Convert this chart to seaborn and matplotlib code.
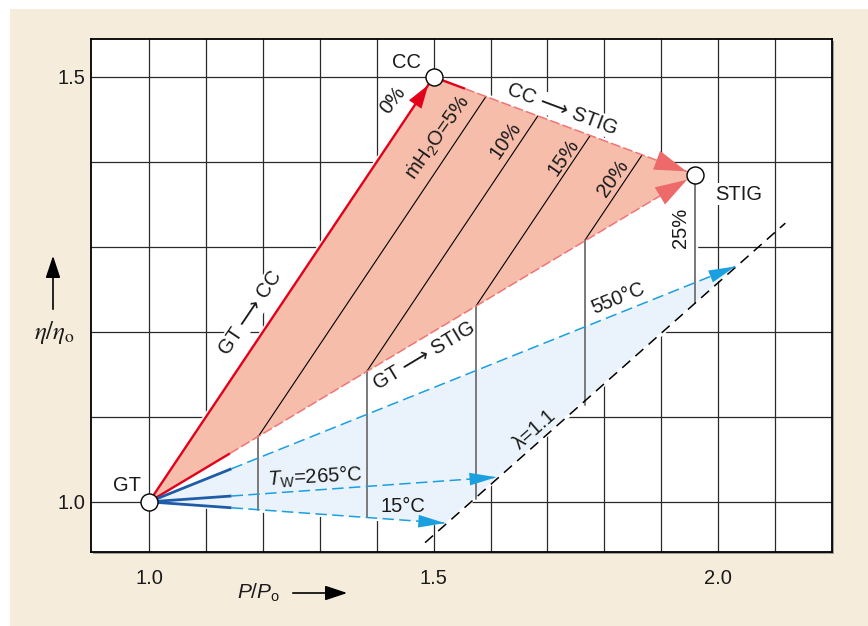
import numpy as np
import pandas as pd
import matplotlib
matplotlib.use('Agg')
import matplotlib.pyplot as plt
import seaborn as sns
from matplotlib.patches import Polygon, Rectangle

# State points (P/Po, eta/eta_o)
gt_point = (1.0, 1.0)
cc_point = (1.5, 1.5)
stig_point = (1.96, 1.385)

# Constant water injection lines (lower end on GT->STIG, upper end on CC->STIG)
water_labels = ['5%', '10%', '15%', '20%']
water_x_low = [1.192, 1.383, 1.575, 1.766]
water_y_low = [1.077, 1.154, 1.231, 1.308]
water_x_high = [1.592, 1.683, 1.775, 1.866]
water_y_high = [1.477, 1.454, 1.431, 1.408]

# Grey drop lines from the GT->STIG line down to the lower boundary
drop_x = [1.192, 1.383, 1.575, 1.766, 1.96]
drop_y_top = [1.077, 1.154, 1.231, 1.308, 1.385]
drop_y_bottom = [0.991, 0.982, 1.003, 1.114, 1.234]

# Water temperature lines from GT, ending on lambda = 1.1
tw_labels = ['550°C', '265°C', '15°C']
tw_x_end = [2.03, 1.61, 1.52]
tw_y_end = [1.277, 1.029, 0.975]

# lambda = 1.1 line
lambda_x = [1.485, 2.118]
lambda_y = [0.952, 1.328]

x_ticks = [1.0, 1.5, 2.0]
y_ticks = [1.0, 1.5]
x_grid = [1.0, 1.1, 1.2, 1.3, 1.4, 1.5, 1.6, 1.7, 1.8, 1.9, 2.0, 2.1]
y_grid = [1.0, 1.1, 1.2, 1.3, 1.4, 1.5]

# Colours
beige = '#f6ecdc'
red = '#e2001a'
salmon_fill = '#f6bdab'
salmon_line = '#f07575'
salmon_head = '#ee6a6a'
blue_dark = '#1f5ca8'
cyan = '#1a9fdf'
blue_fill = '#eaf3fb'
drop_grey = '#7a7a7a'
text_col = '#1a1a1a'

sns.set_theme(style='white')
plt.rcParams['font.family'] = ['Liberation Sans', 'DejaVu Sans']
plt.rcParams['mathtext.fontset'] = 'custom'
plt.rcParams['mathtext.rm'] = 'Liberation Sans'
plt.rcParams['mathtext.it'] = 'Liberation Sans:italic'

W, H = 868, 626
fig = plt.figure(figsize=(W / 100, H / 100), dpi=100)
fig.patch.set_facecolor('white')
fig.patches.append(Rectangle((10 / W, 0), 1 - 10 / W, 1 - 9 / H, transform=fig.transFigure,
                             facecolor=beige, edgecolor='none', zorder=-2))
ax_l, ax_r, ax_t, ax_b = 91, 832, 39, 552
ax = fig.add_axes([ax_l / W, 1 - ax_b / H, (ax_r - ax_l) / W, (ax_b - ax_t) / H])
fig.patches.append(Rectangle(((ax_l + 2) / W, 1 - (ax_b + 2) / H), (ax_r - ax_l) / W, (ax_b - ax_t) / H,
                             transform=fig.transFigure, facecolor='#a0a0a0', edgecolor='none', zorder=-1))

ax.set_xlim(0.898, 2.2)
ax.set_ylim(0.941, 1.5447)
ax.set_facecolor('white')
ax.set_axisbelow(True)
ax.set_xticks(x_ticks)
ax.set_xticklabels([f'{v:.1f}' for v in x_ticks])
ax.set_yticks(y_ticks)
ax.set_yticklabels([f'{v:.1f}' for v in y_ticks])
ax.set_xticks(x_grid, minor=True)
ax.set_yticks(y_grid, minor=True)
ax.grid(which='both', color='#2a2a2a', lw=0.9)
ax.tick_params(which='both', length=0, labelsize=14.5, colors=text_col)
ax.tick_params(axis='x', pad=12)
ax.tick_params(axis='y', pad=4)
for s in ax.spines.values():
    s.set_color('black')
    s.set_linewidth(1.3)

# White area that hides the grid behind the diagram
mask = [gt_point, cc_point, stig_point, (drop_x[-1], drop_y_bottom[-1]), (tw_x_end[2], tw_y_end[2])]
ax.add_patch(Polygon(mask, closed=True, facecolor='white', edgecolor='white', lw=4, zorder=1))

# Pink (STIG) and light blue (water temperature) areas
ax.add_patch(Polygon([gt_point, cc_point, stig_point], closed=True, facecolor=salmon_fill,
                     edgecolor='none', zorder=1.5))
ax.add_patch(Polygon([gt_point, (tw_x_end[0], tw_y_end[0]), (tw_x_end[2], tw_y_end[2])], closed=True,
                     facecolor=blue_fill, edgecolor='none', zorder=1.4))

# Water injection lines and grey drop lines
for i in range(len(water_labels)):
    sns.lineplot(x=[water_x_low[i], water_x_high[i]], y=[water_y_low[i], water_y_high[i]], ax=ax,
                 color='black', lw=0.8, sort=False, estimator=None, zorder=2)
for i in range(len(drop_x)):
    sns.lineplot(x=[drop_x[i], drop_x[i]], y=[drop_y_top[i], drop_y_bottom[i]], ax=ax,
                 color=drop_grey, lw=1.4, sort=False, estimator=None, zorder=2)

# lambda = 1.1
ax.plot(lambda_x, lambda_y, color='black', lw=1.1, dashes=(7, 4.5), zorder=2.5)


def split_line(p0, p1, frac, c_solid, c_dash, lw_solid, lw_dash, dashes, z=3):
    xm = p0[0] + frac * (p1[0] - p0[0])
    ym = p0[1] + frac * (p1[1] - p0[1])
    ax.plot([p0[0], xm], [p0[1], ym], color=c_solid, lw=lw_solid, solid_capstyle='butt', zorder=z)
    ax.plot([xm, p1[0]], [ym, p1[1]], color=c_dash, lw=lw_dash, dashes=dashes, zorder=z)


def head(p0, p1, color, hl, hw, shrink, z=3.5):
    xs = p1[0] - 0.08 * (p1[0] - p0[0])
    ys = p1[1] - 0.08 * (p1[1] - p0[1])
    ax.annotate('', xy=p1, xytext=(xs, ys), zorder=z,
                arrowprops=dict(arrowstyle=f'-|>,head_length={hl},head_width={hw}',
                                color=color, lw=0, shrinkA=0, shrinkB=shrink))


# GT -> CC
ax.plot([gt_point[0], cc_point[0]], [gt_point[1], cc_point[1]], color=red, lw=1.7, zorder=3)
head(gt_point, cc_point, red, 1.4, 0.45, 7)
# CC -> STIG and GT -> STIG
split_line(cc_point, stig_point, 0.12, red, salmon_line, 1.7, 1.1, (6.5, 2))
split_line(gt_point, stig_point, 0.148, red, salmon_line, 1.7, 1.1, (6.5, 2))
head(cc_point, stig_point, salmon_head, 1.9, 0.6, 7)
head(gt_point, stig_point, salmon_head, 1.9, 0.6, 7)

# Water temperature lines
for i in range(len(tw_labels)):
    end = (tw_x_end[i], tw_y_end[i])
    frac = (1.145 - gt_point[0]) / (end[0] - gt_point[0])
    split_line(gt_point, end, frac, blue_dark, cyan, 2.0, 1.1, (7.5, 3.5))
    head(gt_point, end, cyan, 1.6, 0.38, 0)

# State point circles
pts = pd.DataFrame({'x': [gt_point[0], cc_point[0], stig_point[0]],
                    'y': [gt_point[1], cc_point[1], stig_point[1]]})
sns.scatterplot(data=pts, x='x', y='y', ax=ax, s=150, color='white', edgecolor='black',
                linewidth=1.0, zorder=6)
ax.set_xlabel('')
ax.set_ylabel('')

fs = 14.5
tk = dict(fontsize=fs, color=text_col, ha='center', va='center', rotation_mode='anchor', zorder=7)
wb = dict(facecolor='white', edgecolor='none', pad=1.0)
arrow = '\u27f6'
ax.text(1.452, 1.517, 'CC', **tk)
ax.text(0.962, 1.019, 'GT', **tk)
ax.text(2.036, 1.362, 'STIG', bbox=wb, **tk)
ax.text(1.429, 1.473, '0%', rotation=52, **tk)
ax.text(1.508, 1.429, '\u1e41H$_2$O=5%', rotation=55, **tk)
ax.text(1.626, 1.426, '10%', rotation=55, **tk)
ax.text(1.728, 1.405, '15%', rotation=55, **tk)
ax.text(1.815, 1.381, '20%', rotation=55, **tk)
ax.text(1.933, 1.322, '25%', rotation=90, **tk)
ax.text(1.726, 1.462, f'CC {arrow} STIG', rotation=-20.6, bbox=wb, **tk)
ax.text(1.178, 1.222, f'GT {arrow} CC', rotation=56, bbox=wb, **tk)
ax.text(1.484, 1.172, f'GT {arrow} STIG', rotation=31, **tk)
ax.text(1.292, 1.029, r'$T_\mathrm{W}$=265°C', rotation=3, **tk)
ax.text(1.446, 0.994, tw_labels[2], **tk)
ax.text(1.824, 1.240, tw_labels[0], rotation=22, **tk)
ax.text(1.677, 1.085, '\u03bb=1.1', rotation=41.5, **tk)

# Axis captions with arrows
fig.text(54 / W, 1 - 333 / H, r'$\eta/\eta_\mathrm{o}$', math_fontfamily='stix', fontsize=18,
         ha='center', va='center', color=text_col)
fig.add_artist(matplotlib.patches.FancyArrowPatch((53 / W, 1 - 312 / H), (53 / W, 1 - 253 / H),
                                                  transform=fig.transFigure, color='black', lw=1.2,
                                                  arrowstyle='-|>,head_length=0.9,head_width=0.3',
                                                  mutation_scale=15))
fig.text(259 / W, 1 - 593 / H, r'$P/P_\mathrm{o}$', fontsize=15, ha='center', va='center', color=text_col)
fig.add_artist(matplotlib.patches.FancyArrowPatch((290 / W, 1 - 593 / H), (350 / W, 1 - 593 / H),
                                                  transform=fig.transFigure, color='black', lw=1.2,
                                                  arrowstyle='-|>,head_length=0.9,head_width=0.3',
                                                  mutation_scale=15))

fig.savefig('out.png', dpi=100)
